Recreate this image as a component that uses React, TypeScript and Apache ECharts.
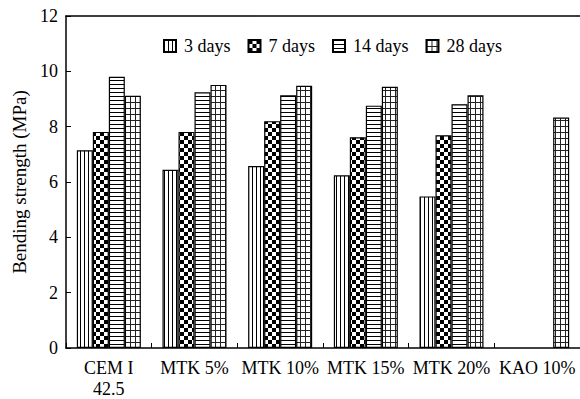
import React, { useEffect, useRef } from "react";
import * as echarts from "echarts";

const categories = ["CEM I\n42.5", "MTK 5%", "MTK 10%", "MTK 15%", "MTK 20%", "KAO 10%"];
const seriesNames = ["3 days", "7 days", "14 days", "28 days"];
const days3 = [7.15, 6.44, 6.58, 6.24, 5.48, null];
const days7 = [7.81, 7.81, 8.2, 7.62, 7.69, null];
const days14 = [9.8, 9.24, 9.14, 8.76, 8.81, null];
const days28 = [9.12, 9.51, 9.48, 9.44, 9.14, 8.33];
const yTicks = { min: 0, max: 12, interval: 2 };

const FONT = "Liberation Serif";

function makeTile(w: number, h: number, draw: (ctx: CanvasRenderingContext2D) => void) {
  const c = document.createElement("canvas");
  c.width = w;
  c.height = h;
  const ctx = c.getContext("2d")!;
  ctx.fillStyle = "#ffffff";
  ctx.fillRect(0, 0, w, h);
  draw(ctx);
  return c;
}

function patterns() {
  const vert = makeTile(4, 4, (ctx) => {
    ctx.fillStyle = "#000";
    ctx.fillRect(0, 0, 1, 4);
  });
  const checker = makeTile(8, 8, (ctx) => {
    ctx.fillStyle = "#000";
    ctx.fillRect(0, 0, 4, 4);
    ctx.fillRect(4, 4, 4, 4);
  });
  const horiz = makeTile(4, 4, (ctx) => {
    ctx.fillStyle = "#000";
    ctx.fillRect(0, 0, 4, 1);
  });
  const grid = makeTile(5, 6, (ctx) => {
    ctx.fillStyle = "#222";
    ctx.fillRect(0, 0, 1, 6);
    ctx.fillRect(0, 0, 5, 1);
  });
  return [vert, checker, horiz, grid];
}

export default function App() {
  const ref = useRef<HTMLDivElement>(null);
  useEffect(() => {
    if (!ref.current) return;
    const chart = echarts.init(ref.current, undefined, { renderer: "svg" });
    const pats = patterns();
    const dataSets = [days3, days7, days14, days28];
    chart.setOption({
      animation: false,
      textStyle: { fontFamily: FONT },
      legend: {
        left: 158,
        top: 32,
        itemWidth: 12,
        itemHeight: 12,
        itemGap: 17,
        icon: "rect",
        data: seriesNames,
        textStyle: { fontFamily: FONT, fontSize: 18, color: "#000", padding: [0, 0, 0, 3] },
      },
      grid: { left: 66, right: 0, top: 16, bottom: 47, containLabel: false },
      xAxis: [
        {
          type: "category",
          data: categories,
          axisLine: { show: true, lineStyle: { color: "#000", width: 1.5 } },
          axisTick: { show: true, inside: true, length: 5, interval: 0, lineStyle: { color: "#000" } },
          axisLabel: {
            interval: 0,
            fontFamily: FONT,
            fontSize: 18,
            color: "#000",
            margin: 9,
            lineHeight: 21,
          },
        },
        {
          type: "category",
          position: "top",
          data: categories,
          axisLine: { show: true, lineStyle: { color: "#000", width: 1.5 } },
          axisTick: { show: false },
          axisLabel: { show: false },
        },
      ],
      yAxis: {
        type: "value",
        min: yTicks.min,
        max: yTicks.max,
        interval: yTicks.interval,
        name: "Bending strength (MPa)",
        nameLocation: "middle",
        nameGap: 37,
        nameTextStyle: { fontFamily: FONT, fontSize: 19, color: "#000" },
        axisLine: { show: true, lineStyle: { color: "#000", width: 1.5 } },
        axisTick: { show: true, inside: true, length: 5, lineStyle: { color: "#000" } },
        axisLabel: { fontFamily: FONT, fontSize: 18, color: "#000", margin: 8 },
        splitLine: { show: false },
      },
      series: seriesNames.map((name, i) => ({
        name,
        type: "bar",
        xAxisIndex: 0,
        data: dataSets[i],
        barWidth: 16,
        barGap: "0%",
        itemStyle: {
          color: { image: pats[i], repeat: "repeat" },
          borderColor: "#000",
          borderWidth: 1.2,
        },
      })),
    });
    return () => chart.dispose();
  }, []);
  return <div ref={ref} style={{ width: 580, height: 399, position: "absolute", left: 0, top: 0 }} />;
}
